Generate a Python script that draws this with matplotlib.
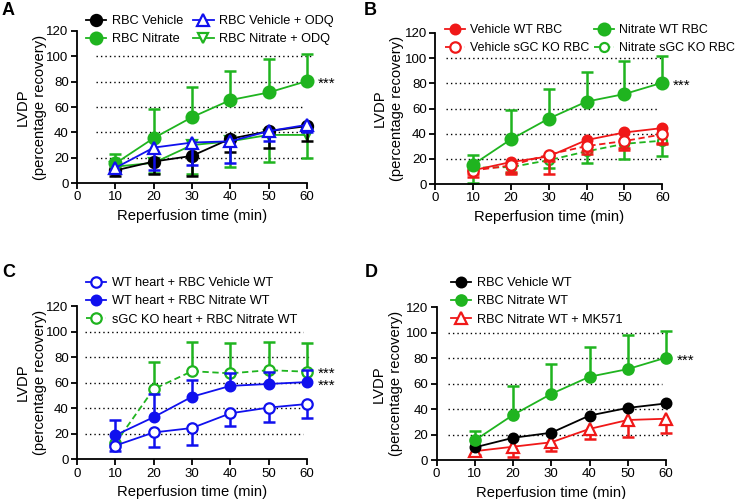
import numpy as np
import matplotlib
matplotlib.use("Agg")
import matplotlib.pyplot as plt

plt.rcParams['font.family'] = ['Liberation Sans', 'DejaVu Sans']

GREEN = '#1fb41f'
BLUE = '#1010ee'
RED = '#f01818'
BLACK = '#000000'

times = [10, 20, 30, 40, 50, 60]
xticks = [0, 10, 20, 30, 40, 50, 60]
yticks = [0, 20, 40, 60, 80, 100, 120]
ylabel = 'LVDP\n(percentage recovery)'
xlabel = 'Reperfusion time (min)'

# shared nitrate series (A, B, D)
nitrate = [15.5, 35.5, 52, 65.5, 71.5, 80.5]
nitrate_hi = [22.8, 58.5, 75.7, 88.8, 98, 101.5]

# panel A
a_veh = [10, 17, 21.5, 35, 41, 45]
a_veh_lo = [6, 7.5, 6, 24.5, 28, 33]
a_veh_odq = [12, 28, 32, 33, 41, 46]
a_veh_odq_lo = [9, 10, 14, 16, 33, 40]
a_nit_odq = [13, 16, 30, 33, 38, 38]
a_nit_odq_lo = [10, 8, 7, 13, 17, 20]

# panel B
b_veh_wt = [11, 17.5, 22, 35, 41, 44.5]
b_veh_wt_lo = [6, 8, 8, 24, 27, 32]
b_veh_ko = [10.8, 14.8, 23.5, 30.2, 34.2, 39.5]
b_veh_ko_lo = [8, 10, 18, 26, 29, 33]
b_nit_ko = [13, 13.5, 19, 26, 32, 34.5]
b_nit_ko_lo = [1, 9, 13, 17, 20, 22]

# panel C
c_veh = [10.7, 21, 24.5, 36, 40.5, 43.3]
c_veh_lo = [6.7, 10, 11.2, 26, 29, 32.3]
c_nit = [18.8, 33, 49, 57.5, 59, 60.5]
c_nit_hi = [30.8, 51, 62, 67.3, 68, 70]
c_ko = [12.5, 55, 69, 67.3, 69.8, 68.6]
c_ko_hi = [np.nan, 76, 91.6, 91, 92, 91]

# panel D
d_veh = [10, 17.5, 21.5, 35, 41, 44.5]
d_mk = [7, 10.5, 14, 24.5, 31.5, 32.5]
d_mk_lo = [4, 2.6, 7.2, 16.2, 17.8, 21.5]


def series(ax, y, ends, color, marker, open_=False, ls='-', ms=7, label=None, z=3):
    if ends is not None:
        ends = np.array(ends, dtype=float)
        ok = ~np.isnan(ends)
        xs = np.array(times)[ok]
        ax.vlines(xs, np.array(y)[ok], ends[ok], color=color, lw=1.8, zorder=z - 0.5, clip_on=False)
        ax.plot(xs, ends[ok], ls='none', marker='_', ms=8, mew=1.8, color=color, zorder=z - 0.5, clip_on=False)
    fc = 'white' if open_ else color
    line, = ax.plot(times, y, ls=ls, lw=1.3, color=color, marker=marker, ms=ms, mfc=fc,
                    mec=color, mew=1.6, zorder=z, clip_on=False, label=label)
    return line


def frame(ax, lab_px, gx0=5, grid_ends=(61, 61, 59, 61, 61)):
    ax.set_xlim(0, 60)
    ax.set_ylim(0, 120)
    ax.set_xticks(xticks)
    ax.set_yticks(yticks)
    for lvl, gx1 in zip([20, 40, 60, 80, 100], grid_ends):
        ax.plot([gx0, gx1], [lvl, lvl], ls=(0, (1, 2.2)), color='black', lw=1.0, zorder=1, clip_on=False)
    for s in ['top', 'right']:
        ax.spines[s].set_visible(False)
    for s in ['left', 'bottom']:
        ax.spines[s].set_linewidth(1.3)
    ax.tick_params(direction='out', length=4, width=1.3, labelsize=9.5, pad=2)
    ax.set_xlabel(xlabel, fontsize=10.6, labelpad=4)
    ax.set_ylabel(ylabel, fontsize=10.6, linespacing=1.3)
    # right edge of the y label, in figure pixels
    bb = ax.get_position()
    ax.yaxis.set_label_coords((lab_px / 740 - bb.x0) / bb.width, 0.5)


def stars(ax, y, n=1):
    ax.text(62.7, y - 2.0, '\n'.join(['***'] * n), fontsize=11, va='center', ha='left',
            linespacing=0.8, clip_on=False)


def legend(ax, handles, px, py, ncol=1, colsp=1.0, fs=9.2):
    ax.legend(handles=handles, loc='upper left', bbox_to_anchor=(px / 740, 1 - py / 499),
              bbox_transform=fig.transFigure, ncol=ncol, frameon=False, fontsize=fs,
              handlelength=1.6, handletextpad=0.4, borderpad=0, borderaxespad=0,
              labelspacing=0.5, columnspacing=colsp)


fig = plt.figure(figsize=(7.4, 4.99), dpi=100)
axA = fig.add_axes([0.104, 0.633, 0.311, 0.305])
axB = fig.add_axes([0.588, 0.631, 0.307, 0.303])
axC = fig.add_axes([0.104, 0.0796, 0.311, 0.307])
axD = fig.add_axes([0.590, 0.078, 0.310, 0.306])

for letter, px, py in [('A', 2, 2), ('B', 364, 2), ('C', 2, 264), ('D', 365, 264)]:
    fig.text(px / 740, 1 - py / 499, letter, fontsize=13, fontweight='bold', va='top', ha='left')

# A
frame(axA, 47)
h4 = series(axA, a_nit_odq, a_nit_odq_lo, GREEN, 'v', open_=True, ms=7, label='RBC Nitrate + ODQ', z=3)
h1 = series(axA, a_veh, a_veh_lo, BLACK, 'o', ms=8, label='RBC Vehicle', z=4)
h2 = series(axA, nitrate, nitrate_hi, GREEN, 'o', ms=8.5, label='RBC Nitrate', z=5)
h3 = series(axA, a_veh_odq, a_veh_odq_lo, BLUE, '^', open_=True, ms=8, label='RBC Vehicle + ODQ', z=6)
stars(axA, 80)
legend(axA, [h1, h2, h3, h4], 86, 15, ncol=2, colsp=0.8)

# B
frame(axB, 404, gx0=3, grid_ends=(60, 61, 59, 61, 60))
h1 = series(axB, b_veh_wt, b_veh_wt_lo, RED, 'o', ms=7, label='Vehicle WT RBC', z=4)
h2 = series(axB, b_veh_ko, b_veh_ko_lo, RED, 'o', open_=True, ls=(0, (3.5, 2)), ms=7.5, label='Vehicle sGC KO RBC', z=5)
h3 = series(axB, nitrate, nitrate_hi, GREEN, 'o', ms=8.5, label='Nitrate WT RBC', z=6)
h4 = series(axB, b_nit_ko, b_nit_ko_lo, GREEN, 'o', open_=True, ls=(0, (3.5, 2)), ms=6.5, label='Nitrate sGC KO RBC', z=3)
stars(axB, 80)
legend(axB, [h1, h2, h3, h4], 445, 24, ncol=2, colsp=0.4, fs=8.9)

# C
frame(axC, 47, gx0=2, grid_ends=(59, 59, 61, 61, 59))
h1 = series(axC, c_veh, c_veh_lo, BLUE, 'o', open_=True, ms=7.5, label='WT heart + RBC Vehicle WT', z=4)
h2 = series(axC, c_nit, c_nit_hi, BLUE, 'o', ms=7, label='WT heart + RBC Nitrate WT', z=5)
h3 = series(axC, c_ko, c_ko_hi, GREEN, 'o', open_=True, ls=(0, (3.5, 2)), ms=7.5, label='sGC KO heart + RBC Nitrate WT', z=3)
stars(axC, (68.6 + 60.5) / 2, n=2)
legend(axC, [h1, h2, h3], 86, 277)

# D
frame(axD, 403, gx0=3, grid_ends=(61, 61, 59, 61, 61))
h1 = series(axD, d_veh, None, BLACK, 'o', ms=7, label='RBC Vehicle WT', z=4)
h2 = series(axD, nitrate, nitrate_hi, GREEN, 'o', ms=7.5, label='RBC Nitrate WT', z=5)
h3 = series(axD, d_mk, d_mk_lo, RED, '^', open_=True, ms=8, label='RBC Nitrate WT + MK571', z=3)
stars(axD, 80)
legend(axD, [h1, h2, h3], 451, 277)

fig.savefig('out.png', dpi=100)
